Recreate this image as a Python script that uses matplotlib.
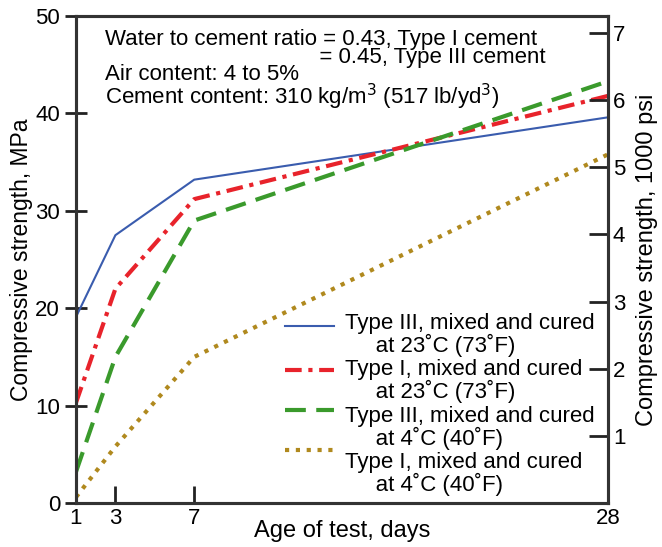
import matplotlib
matplotlib.use("Agg")
import matplotlib.pyplot as plt
from matplotlib.legend_handler import HandlerLine2D

plt.rcParams['font.family'] = ['Liberation Sans', 'DejaVu Sans']

days = [1, 3, 7, 28]
type3_23 = [19.1, 27.5, 33.2, 39.6]
type1_23 = [10.3, 22.0, 31.2, 41.8]
type3_4 = [3.2, 15.0, 29.0, 43.3]
type1_4 = [0.6, 5.8, 15.0, 35.8]

labels = ["Type III, mixed and cured\n     at 23˚C (73˚F)",
          "Type I, mixed and cured\n     at 23˚C (73˚F)",
          "Type III, mixed and cured\n     at 4˚C (40˚F)",
          "Type I, mixed and cured\n     at 4˚C (40˚F)"]
x_ticks = [1, 3, 7, 28]
y_ticks = [0, 10, 20, 30, 40, 50]
psi_ticks = [1, 2, 3, 4, 5, 6, 7]


class RaisedLine(HandlerLine2D):
    def __init__(self, raise_by, **kw):
        super().__init__(**kw)
        self.raise_by = raise_by

    def create_artists(self, legend, orig_handle, xdescent, ydescent,
                       width, height, fontsize, trans):
        return super().create_artists(legend, orig_handle, xdescent,
                                      ydescent - self.raise_by, width, height,
                                      fontsize, trans)


fig = plt.figure(figsize=(6.62, 5.47), dpi=100)
ax = fig.add_axes([0.1148, 0.0804, 0.8036, 0.8903])

l1, = ax.plot(days, type3_23, color='#3a5cae', lw=1.5, ls='-', label=labels[0])
l2, = ax.plot(days, type1_23, color='#e8232b', lw=3, ls=(0, (4, 1.6, 1, 1.6)), label=labels[1])
l3, = ax.plot(days, type3_4, color='#3a9a2c', lw=3, ls=(0, (5, 2.5)), label=labels[2])
l4, = ax.plot(days, type1_4, color='#b0891e', lw=3, ls=(0, (1, 1.6)), label=labels[3])

ax.set_xlim(1, 28)
ax.set_ylim(0, 50)
ax.set_xticks(x_ticks)
ax.set_yticks(y_ticks)
ax.tick_params(axis='both', labelsize=16, length=12, width=2, color='#222222', direction='in')
ax.tick_params(axis='y', direction='inout', length=16)
for s in ax.spines.values():
    s.set_linewidth(2.2)
    s.set_color('#333333')

ax2 = ax.twinx()
ax2.set_ylim(0, 50 * 0.145038)
ax2.set_yticks(psi_ticks)
ax2.tick_params(axis='y', labelsize=16, length=14, width=2, color='#222222', direction='in')
for s in ax2.spines.values():
    s.set_linewidth(2.2)
    s.set_color('#333333')

ax.set_xlabel("Age of test, days", fontsize=17)
ax.xaxis.set_label_coords(0.5, -0.035)
ax.set_ylabel("Compressive strength, MPa", fontsize=16.5)
ax.yaxis.set_label_coords(-0.08, 0.5)
ax2.set_ylabel("Compressive strength, 1000 psi", fontsize=17)
ax2.yaxis.set_label_coords(1.053, 0.5)

hdr = dict(transform=ax.transAxes, fontsize=16, va='baseline', ha='left',
           linespacing=0.84)
ax.text(0.055, (503 - 63) / 487,
        "Water to cement ratio = 0.43, Type I cement\n"
        + " " * 35 + "= 0.45, Type III cement", **hdr)
ax.text(0.055, (503 - 104) / 487,
        "Air content: 4 to 5%\nCement content: 310 kg/m$^3$ (517 lb/yd$^3$)", **hdr)

leg = ax.legend(loc='lower right', bbox_to_anchor=(1.0, -0.013), frameon=False,
                fontsize=16, handlelength=2.2, handletextpad=0.5,
                labelspacing=0.1, borderaxespad=0.2,
                handler_map={l1: RaisedLine(13), l2: RaisedLine(16),
                             l3: RaisedLine(26), l4: RaisedLine(35)})
for t in leg.get_texts():
    t.set_linespacing(1.0)

fig.savefig("out.png", dpi=100)
